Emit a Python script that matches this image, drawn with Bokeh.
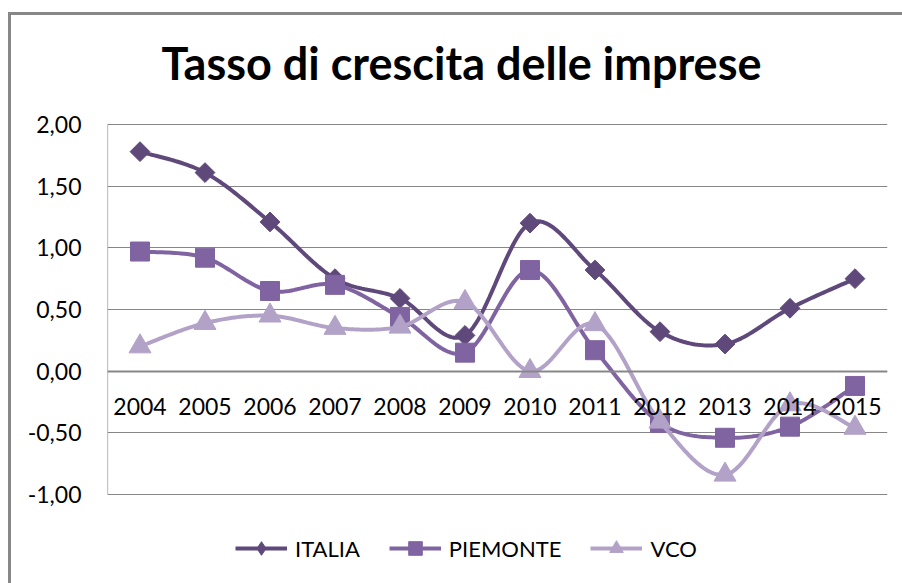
import math
from bokeh.plotting import figure
from bokeh.models import (FixedTicker, CustomJSTickFormatter, Legend, LegendItem, Label,
                          Range1d, ColumnDataSource, Div, Spacer)
from bokeh.layouts import row, column
from bokeh.embed import file_html
from bokeh.resources import INLINE

years = ["2004", "2005", "2006", "2007", "2008", "2009", "2010", "2011", "2012", "2013", "2014", "2015"]
italia = [1.78, 1.61, 1.21, 0.75, 0.59, 0.29, 1.20, 0.82, 0.32, 0.22, 0.51, 0.75]
piemonte = [0.97, 0.92, 0.65, 0.70, 0.44, 0.15, 0.82, 0.17, -0.42, -0.54, -0.45, -0.12]
vco = [0.20, 0.39, 0.45, 0.35, 0.36, 0.56, 0.00, 0.38, -0.41, -0.84, -0.27, -0.46]
y_ticks = [-1.0, -0.5, 0.0, 0.5, 1.0, 1.5, 2.0]
title_text = "Tasso di crescita delle imprese"

FONT = "Lato"
GRAY = "#878787"


def smooth(xs, ys, n=24):
    # Excel-style smoothed line (Catmull-Rom as cubic Bezier) through the data points
    px, py = [], []
    m = len(xs)
    for i in range(m - 1):
        x0, y0 = (xs[i - 1], ys[i - 1]) if i > 0 else (xs[i], ys[i])
        x1, y1 = xs[i], ys[i]
        x2, y2 = xs[i + 1], ys[i + 1]
        x3, y3 = (xs[i + 2], ys[i + 2]) if i + 2 < m else (xs[i + 1], ys[i + 1])
        c1x, c1y = x1 + (x2 - x0) / 6, y1 + (y2 - y0) / 6
        c2x, c2y = x2 - (x3 - x1) / 6, y2 - (y3 - y1) / 6
        for k in range(n + (1 if i == m - 2 else 0)):
            t = k / n
            a, b, c, d = (1 - t) ** 3, 3 * (1 - t) ** 2 * t, 3 * (1 - t) * t ** 2, t ** 3
            px.append(a * x1 + b * c1x + c * c2x + d * x2)
            py.append(a * y1 + b * c1y + c * c2y + d * y2)
    return px, py


xpos = [i + 0.5 for i in range(len(years))]

# layout (pixels): figure canvas occupies the chart box inside the border
W, H = 891, 568
PLOT_TOP_PX, PLOT_H_PX = 109, 370        # value-axis area inside the frame
ppu = PLOT_H_PX / (y_ticks[-1] - y_ticks[0])
y_end = y_ticks[-1] + PLOT_TOP_PX / ppu
y_start = y_ticks[0] - (H - PLOT_TOP_PX - PLOT_H_PX) / ppu

p = figure(width=W, height=H, output_backend="svg", toolbar_location=None,
           x_range=Range1d(0, len(years)), y_range=Range1d(y_start, y_end),
           min_border_left=96, min_border_right=15, min_border_top=0, min_border_bottom=0)
p.outline_line_color = None
p.background_fill_color = "white"
p.border_fill_color = "white"

# axes
p.xaxis.fixed_location = 0
p.xaxis.ticker = FixedTicker(ticks=xpos)
p.xaxis.major_label_overrides = {x: y for x, y in zip(xpos, years)}
p.xaxis.major_tick_line_color = None
p.xaxis.minor_tick_line_color = None
p.xaxis.axis_line_color = GRAY
p.xaxis.axis_line_width = 2
p.xaxis.major_label_text_font = FONT
p.xaxis.major_label_text_font_size = "23px"
p.xaxis.major_label_text_color = "#000000"
p.xaxis.major_label_standoff = 21

p.yaxis.ticker = FixedTicker(ticks=y_ticks)
p.yaxis.formatter = CustomJSTickFormatter(code="return tick.toFixed(2).replace('.', ',');")
p.yaxis.major_tick_line_color = None
p.yaxis.minor_tick_line_color = None
p.yaxis.axis_line_color = None
p.yaxis.major_label_text_font = FONT
p.yaxis.major_label_text_font_size = "23px"
p.yaxis.major_label_text_color = "#000000"
p.yaxis.major_label_standoff = 20

p.xgrid.grid_line_color = None
p.ygrid.ticker = FixedTicker(ticks=y_ticks)
p.ygrid.grid_line_color = GRAY
p.ygrid.grid_line_width = 1.2

# value axis line spanning the tick range
p.segment(x0=[0], y0=[y_ticks[0]], x1=[0], y1=[y_ticks[-1]], line_color=GRAY, line_width=1.2)

series = [
    ("ITALIA", italia, "#5F497A", "square", 14, math.pi / 4, "diamond"),
    ("PIEMONTE", piemonte, "#8064A2", "square", 19, 0.0, None),
    ("VCO", vco, "#B3A2C7", "triangle", 22, 0.0, None),
]
items = []
for name, vals, color, marker, size, ang, key_marker in series:
    sx, sy = smooth(xpos, vals)
    ln = p.line(sx, sy, line_color=color, line_width=4)
    src = ColumnDataSource(dict(x=xpos, y=vals))
    key = None
    if key_marker:
        # narrow diamond underneath the rotated square: hidden in the plot, used for the legend key
        key = p.scatter("x", "y", source=src, marker=key_marker, size=size, fill_color=color, line_color=color)
    mk = p.scatter("x", "y", source=src, marker=marker, size=size, angle=ang,
                   fill_color=color, line_color=color)
    items.append(LegendItem(label=name, renderers=[ln, key or mk]))

legend = Legend(items=items, orientation="horizontal", location=(128, 18),
                label_text_font=FONT, label_text_font_size="22px", label_text_color="#000000",
                glyph_width=52, glyph_height=34, spacing=29, label_standoff=8,
                border_line_color=None, background_fill_alpha=0, padding=0, margin=0)
p.add_layout(legend, "center")

title = Label(x=354, y=H - 47, x_units="screen", y_units="screen", text=title_text,
              text_font=FONT, text_font_style="bold", text_font_size="45px",
              text_align="center", text_baseline="alphabetic", text_color="#000000")
p.add_layout(title)

vbar = Div(text="", width=3, height=H + 3, margin=0, styles={"background-color": GRAY})
hbar = Div(text="", width=W, height=3, margin=0, styles={"background-color": GRAY})
layout = column(Spacer(height=12, width=10, margin=0),
                row(Spacer(width=8, height=10, margin=0), vbar, column(hbar, p, margin=0), margin=0),
                margin=0)

open("out.html", "w").write(file_html(layout, INLINE))
